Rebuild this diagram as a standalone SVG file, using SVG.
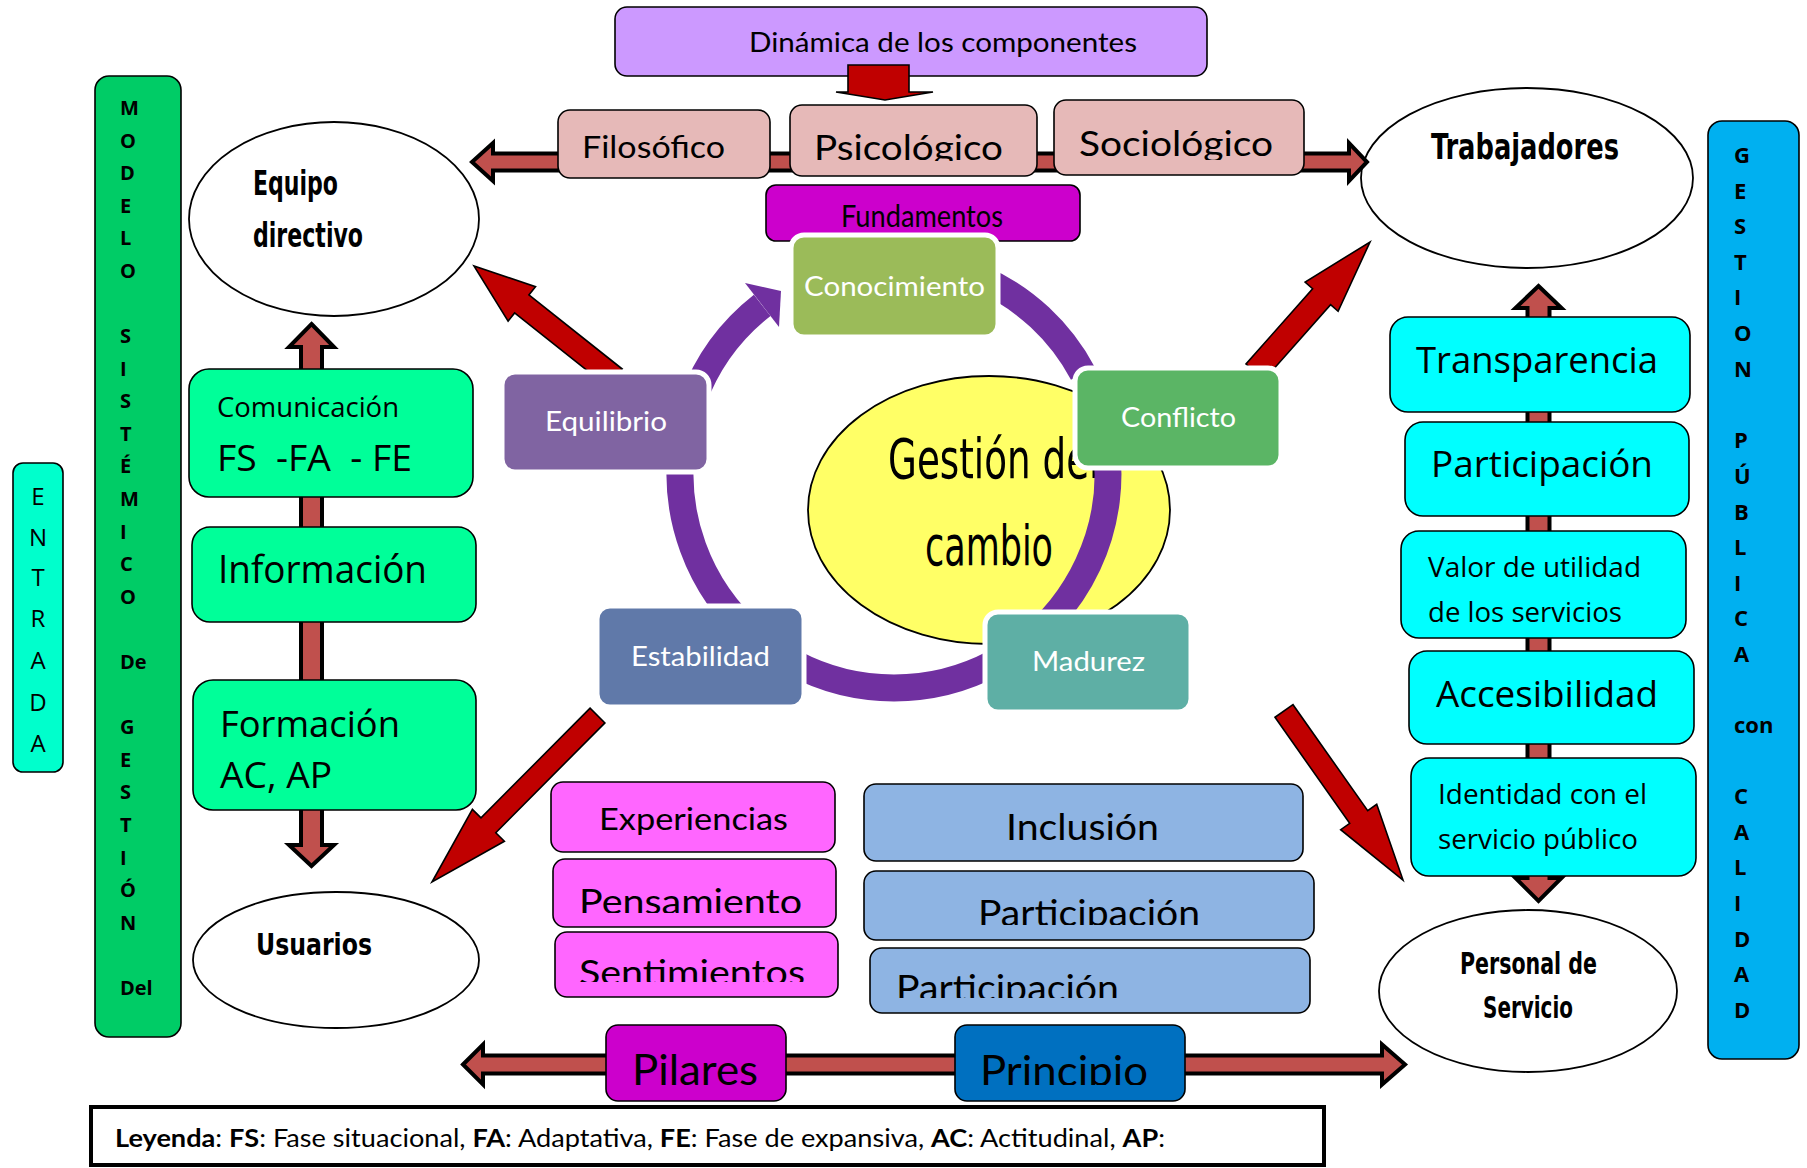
<svg xmlns="http://www.w3.org/2000/svg" width="1807" height="1168" viewBox="0 0 1807 1168">
  <defs>
    <style>
      .box { stroke: #000; stroke-width: 1.6; }
      .cyc { stroke: #fff; stroke-width: 5; }
      .ell { fill: #fff; stroke: #000; stroke-width: 1.8; }
      .cal { font-family: Lato, "Liberation Sans", sans-serif; fill: #000; }
      .seg { font-family: "Open Sans", "Noto Sans", sans-serif; fill: #000; }
      .hand { font-family: "DejaVu Sans Condensed", "DejaVu Sans", sans-serif; font-weight: bold; fill: #000; }
      .thin { font-family: "DejaVu Sans Condensed", "DejaVu Sans", sans-serif; fill: #000; }
      .wht { fill: #fff; }
      .bl { font-family: "Open Sans", "DejaVu Sans", sans-serif; font-weight: bold; font-size: 20px; fill: #000; }
      .gl { font-family: "Open Sans", "DejaVu Sans", sans-serif; font-weight: bold; font-size: 22px; fill: #000; }
      .el { font-family: "Open Sans", "DejaVu Sans", sans-serif; font-size: 24px; fill: #000; text-anchor: middle; }
      .shaft { fill: #C0504D; stroke: #000; stroke-width: 4; stroke-linejoin: miter; }
      .red { fill: #C00000; stroke: #000; stroke-width: 1.6; stroke-linejoin: miter; }
      .ring { fill: none; stroke: #7030A0; stroke-width: 27; }
    </style>
    <clipPath id="cPsico"><rect x="790" y="100" width="250" height="61"/></clipPath>
    <clipPath id="cSocio"><rect x="1054" y="95" width="252" height="65"/></clipPath>
    <clipPath id="cPens"><rect x="553" y="859" width="285" height="54"/></clipPath>
    <clipPath id="cSent"><rect x="555" y="932" width="285" height="50"/></clipPath>
    <clipPath id="cPart2"><rect x="864" y="871" width="452" height="54"/></clipPath>
    <clipPath id="cPart3"><rect x="870" y="948" width="442" height="50"/></clipPath>
    <clipPath id="cPrin"><rect x="955" y="1025" width="232" height="60"/></clipPath>
  </defs>

  <rect width="1807" height="1168" fill="#fff"/>

  <!-- side bars -->
  <g id="entrada">
    <rect x="13" y="463" width="50" height="309" rx="10" fill="#00FFCC" class="box"/>
    <text class="el" x="38" y="505">E</text>
    <text class="el" x="38" y="546">N</text>
    <text class="el" x="38" y="586">T</text>
    <text class="el" x="38" y="627">R</text>
    <text class="el" x="38" y="669">A</text>
    <text class="el" x="38" y="711">D</text>
    <text class="el" x="38" y="752">A</text>
  </g>

  <g id="modelo">
    <rect x="95" y="76" width="86" height="961" rx="14" fill="#00CC66" class="box"/>
    <text class="bl" x="120" y="115">M</text>
    <text class="bl" x="120" y="148">O</text>
    <text class="bl" x="120" y="180">D</text>
    <text class="bl" x="120" y="213">E</text>
    <text class="bl" x="120" y="245">L</text>
    <text class="bl" x="120" y="278">O</text>
    <text class="bl" x="120" y="343">S</text>
    <text class="bl" x="120" y="376">I</text>
    <text class="bl" x="120" y="408">S</text>
    <text class="bl" x="120" y="441">T</text>
    <text class="bl" x="120" y="473">É</text>
    <text class="bl" x="120" y="506">M</text>
    <text class="bl" x="120" y="539">I</text>
    <text class="bl" x="120" y="571">C</text>
    <text class="bl" x="120" y="604">O</text>
    <text class="bl" x="120" y="669">De</text>
    <text class="bl" x="120" y="734">G</text>
    <text class="bl" x="120" y="767">E</text>
    <text class="bl" x="120" y="799">S</text>
    <text class="bl" x="120" y="832">T</text>
    <text class="bl" x="120" y="865">I</text>
    <text class="bl" x="120" y="897">Ó</text>
    <text class="bl" x="120" y="930">N</text>
    <text class="bl" x="120" y="995">Del</text>
  </g>

  <g id="gestion-publica">
    <rect x="1708" y="121" width="91" height="938" rx="14" fill="#00B0F0" class="box"/>
    <text class="gl" x="1734" y="163">G</text>
    <text class="gl" x="1734" y="199">E</text>
    <text class="gl" x="1734" y="234">S</text>
    <text class="gl" x="1734" y="270">T</text>
    <text class="gl" x="1734" y="305">I</text>
    <text class="gl" x="1734" y="341">O</text>
    <text class="gl" x="1734" y="377">N</text>
    <text class="gl" x="1734" y="448">P</text>
    <text class="gl" x="1734" y="484">Ú</text>
    <text class="gl" x="1734" y="520">B</text>
    <text class="gl" x="1734" y="555">L</text>
    <text class="gl" x="1734" y="591">I</text>
    <text class="gl" x="1734" y="626">C</text>
    <text class="gl" x="1734" y="662">A</text>
    <text class="gl" x="1734" y="733">con</text>
    <text class="gl" x="1734" y="804">C</text>
    <text class="gl" x="1734" y="840">A</text>
    <text class="gl" x="1734" y="875">L</text>
    <text class="gl" x="1734" y="911">I</text>
    <text class="gl" x="1734" y="947">D</text>
    <text class="gl" x="1734" y="982">A</text>
    <text class="gl" x="1734" y="1018">D</text>
  </g>

  <!-- actors -->
  <g id="equipo-directivo">
    <ellipse class="ell" cx="334" cy="219" rx="145" ry="97"/>
    <text class="hand" x="253" y="195" font-size="34" textLength="85" lengthAdjust="spacingAndGlyphs">Equipo</text>
    <text class="hand" x="253" y="247" font-size="34" textLength="110" lengthAdjust="spacingAndGlyphs">directivo</text>
  </g>
  <g id="trabajadores">
    <ellipse class="ell" cx="1527" cy="178" rx="166" ry="90"/>
    <text class="hand" x="1431" y="159" font-size="35" textLength="188" lengthAdjust="spacingAndGlyphs">Trabajadores</text>
  </g>
  <g id="usuarios">
    <ellipse class="ell" cx="336" cy="960" rx="143" ry="68"/>
    <text class="hand" x="256" y="955" font-size="30" textLength="116" lengthAdjust="spacingAndGlyphs">Usuarios</text>
  </g>
  <g id="personal-servicio">
    <ellipse class="ell" cx="1528" cy="991" rx="149" ry="81"/>
    <text class="hand" x="1460" y="974" font-size="30" textLength="137" lengthAdjust="spacingAndGlyphs">Personal de</text>
    <text class="hand" x="1483" y="1018" font-size="30" textLength="90" lengthAdjust="spacingAndGlyphs">Servicio</text>
  </g>

  <!-- central theme -->
  <g id="gestion-cambio">
    <ellipse cx="989" cy="510" rx="181" ry="134" fill="#FFFF66" stroke="#000" stroke-width="1.8"/>
    <text class="thin" transform="translate(888 478) scale(0.74 1)" font-size="56">Gestión del</text>
    <text class="thin" x="925" y="565" font-size="56" textLength="128" lengthAdjust="spacingAndGlyphs">cambio</text>
  </g>

  <g id="dinamica">
    <rect x="615" y="7" width="592" height="69" rx="12" fill="#CC99FF" class="box"/>
    <text class="cal" x="749" y="52" font-size="26" textLength="388" lengthAdjust="spacingAndGlyphs">Dinámica de los componentes</text>
  </g>

  <!-- connectors -->
  <g id="connectors">
    <path class="red" d="M848,65 L909,65 L909,92 L933,92 L885,100 L836,92 L848,92 Z"/>
    <path class="shaft" d="M472,162 L493,143 L493,153.5 L1349,153.5 L1349,143 L1367,162 L1349,181 L1349,170.5 L493,170.5 L493,181 Z"/>
    <path class="shaft" d="M463,1064.5 L483,1044.5 L483,1055.5 L1382,1055.5 L1382,1044.5 L1405,1064.5 L1382,1084.5 L1382,1073.5 L483,1073.5 L483,1084.5 Z"/>
    <path class="shaft" d="M311.5,324 L334,347 L322,347 L322,845 L334,845 L311.5,866 L289,845 L301,845 L301,347 L289,347 Z"/>
    <path class="shaft" d="M1538.5,286 L1561.5,308 L1549.5,308 L1549.5,878 L1561.5,878 L1538.5,901 L1515.5,878 L1527.5,878 L1527.5,308 L1515.5,308 Z"/>
    <polygon class="red" points="622.2,369 528.9,294.9 535.5,286.7 474,266 508.1,321.1 514.6,312.9 607.8,387"/>
    <polygon class="red" points="1264,379.9 1330.6,304.6 1338.1,311.3 1370,242 1305.1,282.1 1312.6,288.7 1246,364"/>
    <polygon class="red" points="590.1,708.1 481,817.9 472.4,809.4 432,882 504.4,841.2 495.8,832.7 604.9,722.9"/>
    <polygon class="red" points="1275,717.3 1349.7,823.3 1340.7,829.7 1403,880 1376.7,804.3 1367.7,810.7 1293,704.7"/>
    <!-- cycle ring -->
    <path class="ring" d="M692.9,400.8 A214,214 0 0 1 762.2,305.4"/>
    <polygon points="745,283 781,291 779,327" fill="#7030A0"/>
    <path class="ring" d="M981,278.5 A214,214 0 0 1 1082.9,373.5"/>
    <path class="ring" d="M1104.7,436.8 A214,214 0 0 1 1001,659.3"/>
    <path class="ring" d="M994.5,662.9 A214,214 0 0 1 793.5,662.9"/>
    <path class="ring" d="M756.4,637.9 A214,214 0 0 1 683.3,436.8"/>
  </g>

  <!-- foundations -->
  <g id="filosofico">
    <rect x="558" y="110" width="212" height="68" rx="12" fill="#E6B9B8" class="box"/>
    <text class="cal" x="582" y="158" font-size="31" textLength="143" lengthAdjust="spacingAndGlyphs">Filosófico</text>
  </g>
  <g id="psicologico">
    <rect x="790" y="105" width="247" height="71" rx="12" fill="#E6B9B8" class="box"/>
    <text class="cal" x="814" y="160" font-size="35" textLength="189" lengthAdjust="spacingAndGlyphs" clip-path="url(#cPsico)">Psicológico</text>
  </g>
  <g id="sociologico">
    <rect x="1054" y="100" width="250" height="75" rx="12" fill="#E6B9B8" class="box"/>
    <text class="cal" x="1079" y="156" font-size="34" textLength="194" lengthAdjust="spacingAndGlyphs" clip-path="url(#cSocio)">Sociológico</text>
  </g>
  <g id="fundamentos">
    <rect x="766" y="185" width="314" height="56" rx="10" fill="#CC00CC" class="box"/>
    <text class="cal" x="841" y="227" font-size="30" textLength="162" lengthAdjust="spacingAndGlyphs">Fundamentos</text>
  </g>

  <!-- cycle -->
  <g id="conocimiento">
    <rect x="791" y="235" width="207" height="102" rx="13" fill="#9BBB59" class="cyc"/>
    <text class="cal wht" x="804" y="296" font-size="27" textLength="181" lengthAdjust="spacingAndGlyphs">Conocimiento</text>
  </g>
  <g id="conflicto">
    <rect x="1075" y="368" width="206" height="100" rx="13" fill="#5BB565" class="cyc"/>
    <text class="cal wht" x="1121" y="427" font-size="27" textLength="115" lengthAdjust="spacingAndGlyphs">Conflicto</text>
  </g>
  <g id="madurez">
    <rect x="985" y="612" width="206" height="100" rx="13" fill="#5EAFA5" class="cyc"/>
    <text class="cal wht" x="1032" y="671" font-size="27" textLength="113" lengthAdjust="spacingAndGlyphs">Madurez</text>
  </g>
  <g id="estabilidad">
    <rect x="597" y="606" width="207" height="101" rx="13" fill="#6079A9" class="cyc"/>
    <text class="cal wht" x="631" y="666" font-size="27" textLength="139" lengthAdjust="spacingAndGlyphs">Estabilidad</text>
  </g>
  <g id="equilibrio">
    <rect x="502" y="372" width="207" height="100" rx="13" fill="#8064A2" class="cyc"/>
    <text class="cal wht" x="545" y="431" font-size="27" textLength="122" lengthAdjust="spacingAndGlyphs">Equilibrio</text>
  </g>

  <!-- left column -->
  <g id="comunicacion">
    <rect x="189" y="369" width="284" height="128" rx="20" fill="#00FF99" class="box"/>
    <text class="seg" x="217" y="417" font-size="27" textLength="182" lengthAdjust="spacingAndGlyphs">Comunicación</text>
    <text class="seg" x="217" y="471" font-size="36" textLength="195" lengthAdjust="spacingAndGlyphs" style="white-space:pre">FS  -FA  - FE</text>
  </g>
  <g id="informacion">
    <rect x="192" y="527" width="284" height="95" rx="18" fill="#00FF99" class="box"/>
    <text class="seg" x="218" y="583" font-size="38" textLength="209" lengthAdjust="spacingAndGlyphs">Información</text>
  </g>
  <g id="formacion">
    <rect x="193" y="680" width="283" height="130" rx="20" fill="#00FF99" class="box"/>
    <text class="seg" x="220" y="737" font-size="37" textLength="180" lengthAdjust="spacingAndGlyphs">Formación</text>
    <text class="seg" x="220" y="788" font-size="37" textLength="112" lengthAdjust="spacingAndGlyphs">AC, AP</text>
  </g>

  <!-- right column -->
  <g id="transparencia">
    <rect x="1390" y="317" width="300" height="95" rx="18" fill="#00FFFF" class="box"/>
    <text class="seg" x="1416" y="373" font-size="36" textLength="242" lengthAdjust="spacingAndGlyphs">Transparencia</text>
  </g>
  <g id="participacion">
    <rect x="1405" y="422" width="284" height="94" rx="18" fill="#00FFFF" class="box"/>
    <text class="seg" x="1431" y="477" font-size="36" textLength="222" lengthAdjust="spacingAndGlyphs">Participación</text>
  </g>
  <g id="valor-utilidad">
    <rect x="1401" y="531" width="285" height="107" rx="18" fill="#00FFFF" class="box"/>
    <text class="seg" x="1428" y="577" font-size="28" textLength="213" lengthAdjust="spacingAndGlyphs">Valor de utilidad</text>
    <text class="seg" x="1428" y="622" font-size="28" textLength="194" lengthAdjust="spacingAndGlyphs">de los servicios</text>
  </g>
  <g id="accesibilidad">
    <rect x="1409" y="651" width="285" height="93" rx="18" fill="#00FFFF" class="box"/>
    <text class="seg" x="1436" y="707" font-size="37" textLength="222" lengthAdjust="spacingAndGlyphs">Accesibilidad</text>
  </g>
  <g id="identidad">
    <rect x="1411" y="758" width="285" height="118" rx="18" fill="#00FFFF" class="box"/>
    <text class="seg" x="1438" y="804" font-size="28" textLength="209" lengthAdjust="spacingAndGlyphs">Identidad con el</text>
    <text class="seg" x="1438" y="849" font-size="28" textLength="200" lengthAdjust="spacingAndGlyphs">servicio público</text>
  </g>

  <!-- pillars -->
  <g id="experiencias">
    <rect x="551" y="782" width="284" height="70" rx="12" fill="#FF66FF" class="box"/>
    <text class="cal" x="599" y="830" font-size="31" textLength="189" lengthAdjust="spacingAndGlyphs">Experiencias</text>
  </g>
  <g id="pensamiento">
    <rect x="553" y="859" width="283" height="68" rx="12" fill="#FF66FF" class="box"/>
    <text class="cal" x="579" y="914" font-size="34" textLength="223" lengthAdjust="spacingAndGlyphs" clip-path="url(#cPens)">Pensamiento</text>
  </g>
  <g id="sentimientos">
    <rect x="555" y="932" width="283" height="65" rx="12" fill="#FF66FF" class="box"/>
    <text class="cal" x="579" y="985" font-size="34" textLength="226" lengthAdjust="spacingAndGlyphs" clip-path="url(#cSent)">Sentimientos</text>
  </g>

  <!-- principles -->
  <g id="inclusion">
    <rect x="864" y="784" width="439" height="77" rx="12" fill="#8EB4E3" class="box"/>
    <text class="cal" x="1006" y="840" font-size="37" textLength="153" lengthAdjust="spacingAndGlyphs">Inclusión</text>
  </g>
  <g id="participacion-2">
    <rect x="864" y="871" width="450" height="69" rx="12" fill="#8EB4E3" class="box"/>
    <text class="cal" x="978" y="926" font-size="37" textLength="222" lengthAdjust="spacingAndGlyphs" clip-path="url(#cPart2)">Participación</text>
  </g>
  <g id="participacion-3">
    <rect x="870" y="948" width="440" height="65" rx="12" fill="#8EB4E3" class="box"/>
    <text class="cal" x="896" y="1001" font-size="36" textLength="223" lengthAdjust="spacingAndGlyphs" clip-path="url(#cPart3)">Participación</text>
  </g>

  <g id="pilares">
    <rect x="606" y="1025" width="180" height="76" rx="12" fill="#CC00CC" class="box"/>
    <text class="cal" x="632" y="1085" font-size="42" textLength="126" lengthAdjust="spacingAndGlyphs">Pilares</text>
  </g>
  <g id="principio">
    <rect x="955" y="1025" width="230" height="76" rx="12" fill="#0070C0" class="box"/>
    <text class="cal" x="980" y="1086" font-size="42" textLength="168" lengthAdjust="spacingAndGlyphs" clip-path="url(#cPrin)">Principio</text>
  </g>

  <!-- legend -->
  <g id="leyenda">
    <rect x="91" y="1107" width="1233" height="58" fill="#fff" stroke="#000" stroke-width="4"/>
    <text class="cal" x="115" y="1147" font-size="25" textLength="1050" lengthAdjust="spacingAndGlyphs"><tspan font-weight="bold">Leyenda</tspan>: <tspan font-weight="bold">FS</tspan>: Fase situacional, <tspan font-weight="bold">FA</tspan>: Adaptativa, <tspan font-weight="bold">FE</tspan>: Fase de expansiva, <tspan font-weight="bold">AC</tspan>: Actitudinal, <tspan font-weight="bold">AP</tspan>:</text>
  </g>
</svg>
